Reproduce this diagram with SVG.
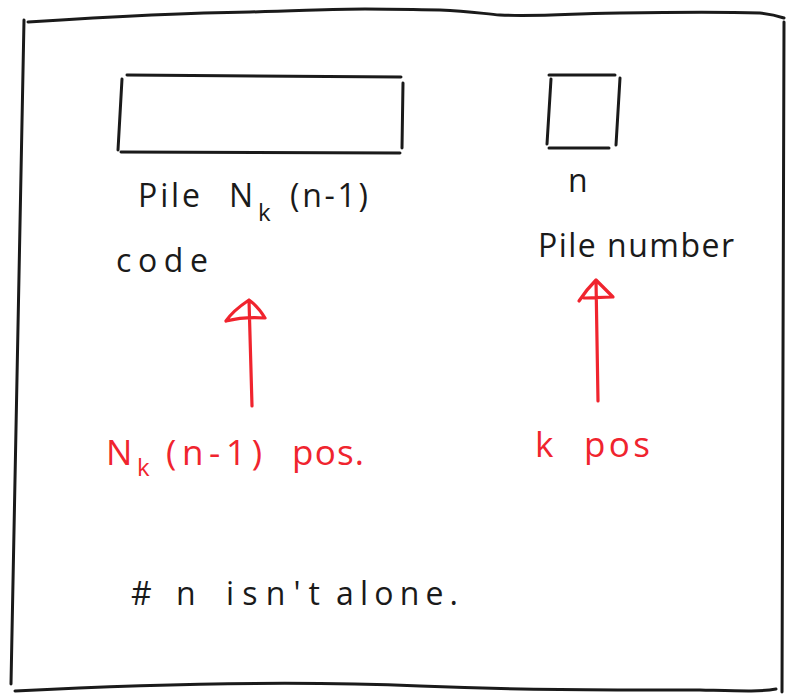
<svg xmlns="http://www.w3.org/2000/svg" width="786" height="696" viewBox="0 0 786 696">
<style>
.ink{fill:none;stroke:#1a1a1a;stroke-width:3;stroke-linecap:round;stroke-linejoin:round}
.red{fill:none;stroke:#f0242e;stroke-width:3.2;stroke-linecap:round;stroke-linejoin:round}
.t{font-family:"Open Sans","DejaVu Sans",sans-serif;font-size:32px;fill:#1a1a1a}
.r{font-family:"Open Sans","DejaVu Sans",sans-serif;font-size:35px;fill:#f0242e}
.sub{font-size:24px}
</style>
<rect width="786" height="696" fill="#ffffff"/>
<g id="frame">
<path class="ink" d="M28,22 C90,18 180,13 250,12 C300,11 330,9 365,9 C400,9 420,10 440,10 C470,11 485,14 500,15 C540,17 580,13 620,13 C680,12 730,12 760,13 C770,14 778,16 784,18"/>
<path class="ink" d="M24,20 L11,684"/>
<path class="ink" d="M15,691 C150,684 300,681 420,686 C520,690 600,690 700,690 C740,691 760,692 776,689"/>
<path class="ink" d="M784,22 L782,692"/>
</g>
<g id="code-box">
<path class="ink" d="M127,75 L401,77 M122,79 L118,150 M121,152 L400,153 M403,83 L402,148"/>
<text class="t" x="138" y="207" textLength="62" lengthAdjust="spacing">Pile</text>
<text class="t" x="229" y="207">N</text>
<text class="t sub" x="258" y="221">k</text>
<text class="t" x="290" y="207" textLength="78" lengthAdjust="spacing">(n-1)</text>
<text class="t" x="116" y="272" textLength="92" lengthAdjust="spacing">code</text>
</g>
<g id="pile-number-box">
<path class="ink" d="M549,75 L615,75 M551,79 L547,144 M549,148 L609,148 M620,78 L616,145"/>
<text class="t" x="568" y="192">n</text>
<text class="t" x="538" y="257" textLength="196" lengthAdjust="spacing">Pile number</text>
</g>
<g id="connectors">
<path class="red" d="M252,406 L249,300 M226,321 C232,312 243,304 249,300 C256,305 262,313 265,318 C252,317 238,318 226,321"/>
<path class="red" d="M598,401 L596,280 M579,301 C585,292 591,285 596,280 C601,285 608,292 613,297 C602,297 591,298 584,298"/>
</g>
<g id="labels">
<text class="r" x="106" y="465">N</text>
<text class="r sub" x="137" y="476">k</text>
<text class="r" x="166" y="465" textLength="96" lengthAdjust="spacing">(n-1)</text>
<text class="r" x="292" y="465" textLength="72" lengthAdjust="spacing">pos.</text>
<text class="r" x="535" y="457">k</text>
<text class="r" x="584" y="457" textLength="66" lengthAdjust="spacing">pos</text>
<text class="t" x="131" y="605">#</text>
<text class="t" x="176" y="605">n</text>
<text class="t" x="226" y="605" textLength="94" lengthAdjust="spacing">isn't</text>
<text class="t" x="336" y="605" textLength="122" lengthAdjust="spacing">alone.</text>
</g>
</svg>
